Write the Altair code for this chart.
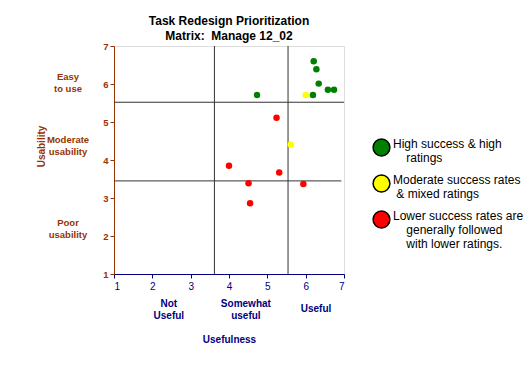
import json
import altair as alt
import pandas as pd

# Usefulness (x) and usability (y) scores per task, grouped by outcome
green_x = [6.21, 6.28, 6.34, 6.58, 6.74, 6.19, 4.73]
green_y = [6.60, 6.39, 6.01, 5.85, 5.85, 5.71, 5.71]
yellow_x = [6.00, 5.61]
yellow_y = [5.71, 4.41]
red_x = [5.24, 4.00, 5.31, 4.51, 5.94, 4.55]
red_y = [5.11, 3.85, 3.67, 3.39, 3.37, 2.86]

groups = ["high", "moderate", "lower"]
group_colors = ["#008000", "#FFFF00", "#FF0000"]
NB = "\u00a0"
# a zero-width lead keeps the indent of continuation lines from being trimmed
IND = "\u200b"
group_labels = {
    "high": ["High success & high", IND + NB * 4 + "ratings"],
    "moderate": ["Moderate success rates", IND + NB + "& mixed ratings"],
    "lower": ["Lower success rates are", IND + NB * 4 + "generally followed",
              IND + NB * 4 + "with lower ratings."],
}

# Quadrant divider lines
v_lines = [3.62, 5.54]
h_lines = [5.52, 3.45]
h_line_end = [7.0, 6.93]

ticks = [1, 2, 3, 4, 5, 6, 7]

x_band_labels = ["Not\nUseful", "Somewhat\nuseful", "Useful"]
x_band_pos = [2.43, 4.44, 6.27]
x_band_row = [0.21, 0.21, 0.08]
y_band_labels = ["Easy\nto use", "Moderate\nusability", "Poor\nusability"]
y_band_pos = [6.19, 4.53, 2.35]

FONT = "Liberation Sans"
BROWN = "#993300"
NAVY = "#000080"

points = pd.DataFrame(
    {
        "usefulness": green_x + yellow_x + red_x,
        "usability": green_y + yellow_y + red_y,
        "group": ["high"] * len(green_x) + ["moderate"] * len(yellow_x) + ["lower"] * len(red_x),
    }
)
vdf = pd.DataFrame({"x": v_lines})
hdf = pd.DataFrame({"y": h_lines, "x1": [1.0, 1.0], "x2": h_line_end})
xlab = pd.DataFrame({"x": x_band_pos, "label": x_band_labels, "y": x_band_row})
ylab = pd.DataFrame({"y": y_band_pos, "label": y_band_labels})

xscale = alt.Scale(domain=[1, 7], nice=False, zero=False)
yscale = alt.Scale(domain=[1, 7], nice=False, zero=False)

x_axis = alt.Axis(
    values=ticks,
    grid=False,
    labelOverlap=False,
    domainColor=NAVY,
    tickColor=NAVY,
    tickSize=4,
    labelColor=NAVY,
    labelFont=FONT,
    labelFontSize=10,
    labelPadding=3,
    title="Usefulness",
    titleColor=NAVY,
    titleFont=FONT,
    titleFontSize=10,
    titleFontWeight="bold",
    titlePadding=43,
)
y_axis = alt.Axis(
    values=ticks,
    grid=False,
    labelOverlap=False,
    domainColor=BROWN,
    tickColor=BROWN,
    tickSize=4,
    labelColor=BROWN,
    labelFont=FONT,
    labelFontSize=9.5,
    labelFontWeight="bold",
    labelPadding=2,
    title="Usability",
    titleColor=BROWN,
    titleFont=FONT,
    titleFontSize=10,
    titleFontWeight="bold",
    titleAngle=270,
    titleX=-73,
    titleY=100,
    titleAlign="center",
    titleBaseline="middle",
)

label_expr = " : ".join(
    f"datum.value == '{g}' ? {json.dumps(group_labels[g])}" for g in groups
) + " : ''"

scatter = alt.Chart(points).mark_circle(size=42, opacity=1).encode(
    x=alt.X("usefulness:Q", scale=xscale, axis=x_axis),
    y=alt.Y("usability:Q", scale=yscale, axis=y_axis),
    color=alt.Color(
        "group:N",
        scale=alt.Scale(domain=groups, range=group_colors),
        legend=alt.Legend(
            title=None,
            orient="none",
            legendX=258,
            legendY=92,
            padding=0,
            symbolType="circle",
            symbolSize=283,
            symbolStrokeColor="black",
            symbolStrokeWidth=1.5,
            symbolOpacity=1,
            labelFont=FONT,
            labelFontSize=12,
            labelColor="black",
            labelOffset=2,
            labelLimit=0,
            labelBaseline="alphabetic",
            labelExpr=label_expr,
            rowPadding=8,
        ),
    ),
)

vrules = alt.Chart(vdf).mark_rule(color="#333333", strokeWidth=1).encode(
    x=alt.X("x:Q", scale=xscale, axis=x_axis)
)
hrules = alt.Chart(hdf).mark_rule(color="#333333", strokeWidth=1).encode(
    y=alt.Y("y:Q", scale=yscale, axis=y_axis),
    x=alt.X("x1:Q", scale=xscale, axis=x_axis),
    x2="x2:Q",
)

xband = alt.Chart(xlab).mark_text(
    font=FONT, fontSize=10, fontWeight="bold", color=NAVY, lineBreak="\n",
    align="center", baseline="middle", lineHeight=12,
).encode(
    x=alt.X("x:Q", scale=xscale, axis=x_axis),
    y=alt.Y("y:Q", scale=yscale, axis=y_axis),
    text="label:N",
)

yband = alt.Chart(ylab).mark_text(
    font=FONT, fontSize=9.5, fontWeight="bold", color=BROWN, lineBreak="\n",
    align="center", baseline="middle", lineHeight=12,
).encode(
    x=alt.value(-46),
    y=alt.Y("y:Q", scale=yscale, axis=y_axis),
    text="label:N",
)

chart = (
    alt.layer(vrules, hrules, scatter, xband, yband)
    .properties(
        width=230,
        height=228,
        autosize=alt.AutoSizeParams(type="none"),
        padding={"left": 114, "top": 46, "right": 187, "bottom": 96},
        title=alt.TitleParams(
            text=["Task Redesign Prioritization", "Matrix:" + NB + " Manage 12_02"],
            font=FONT,
            fontSize=12,
            fontWeight="bold",
            color="black",
            anchor="middle",
            lineHeight=15,
            offset=-2,
        ),
    )
    .configure_view(fill="#C0C0C0", stroke=None)
    .configure(background="white")
)

chart.save("out.html", embed_options={"renderer": "svg", "actions": False})
